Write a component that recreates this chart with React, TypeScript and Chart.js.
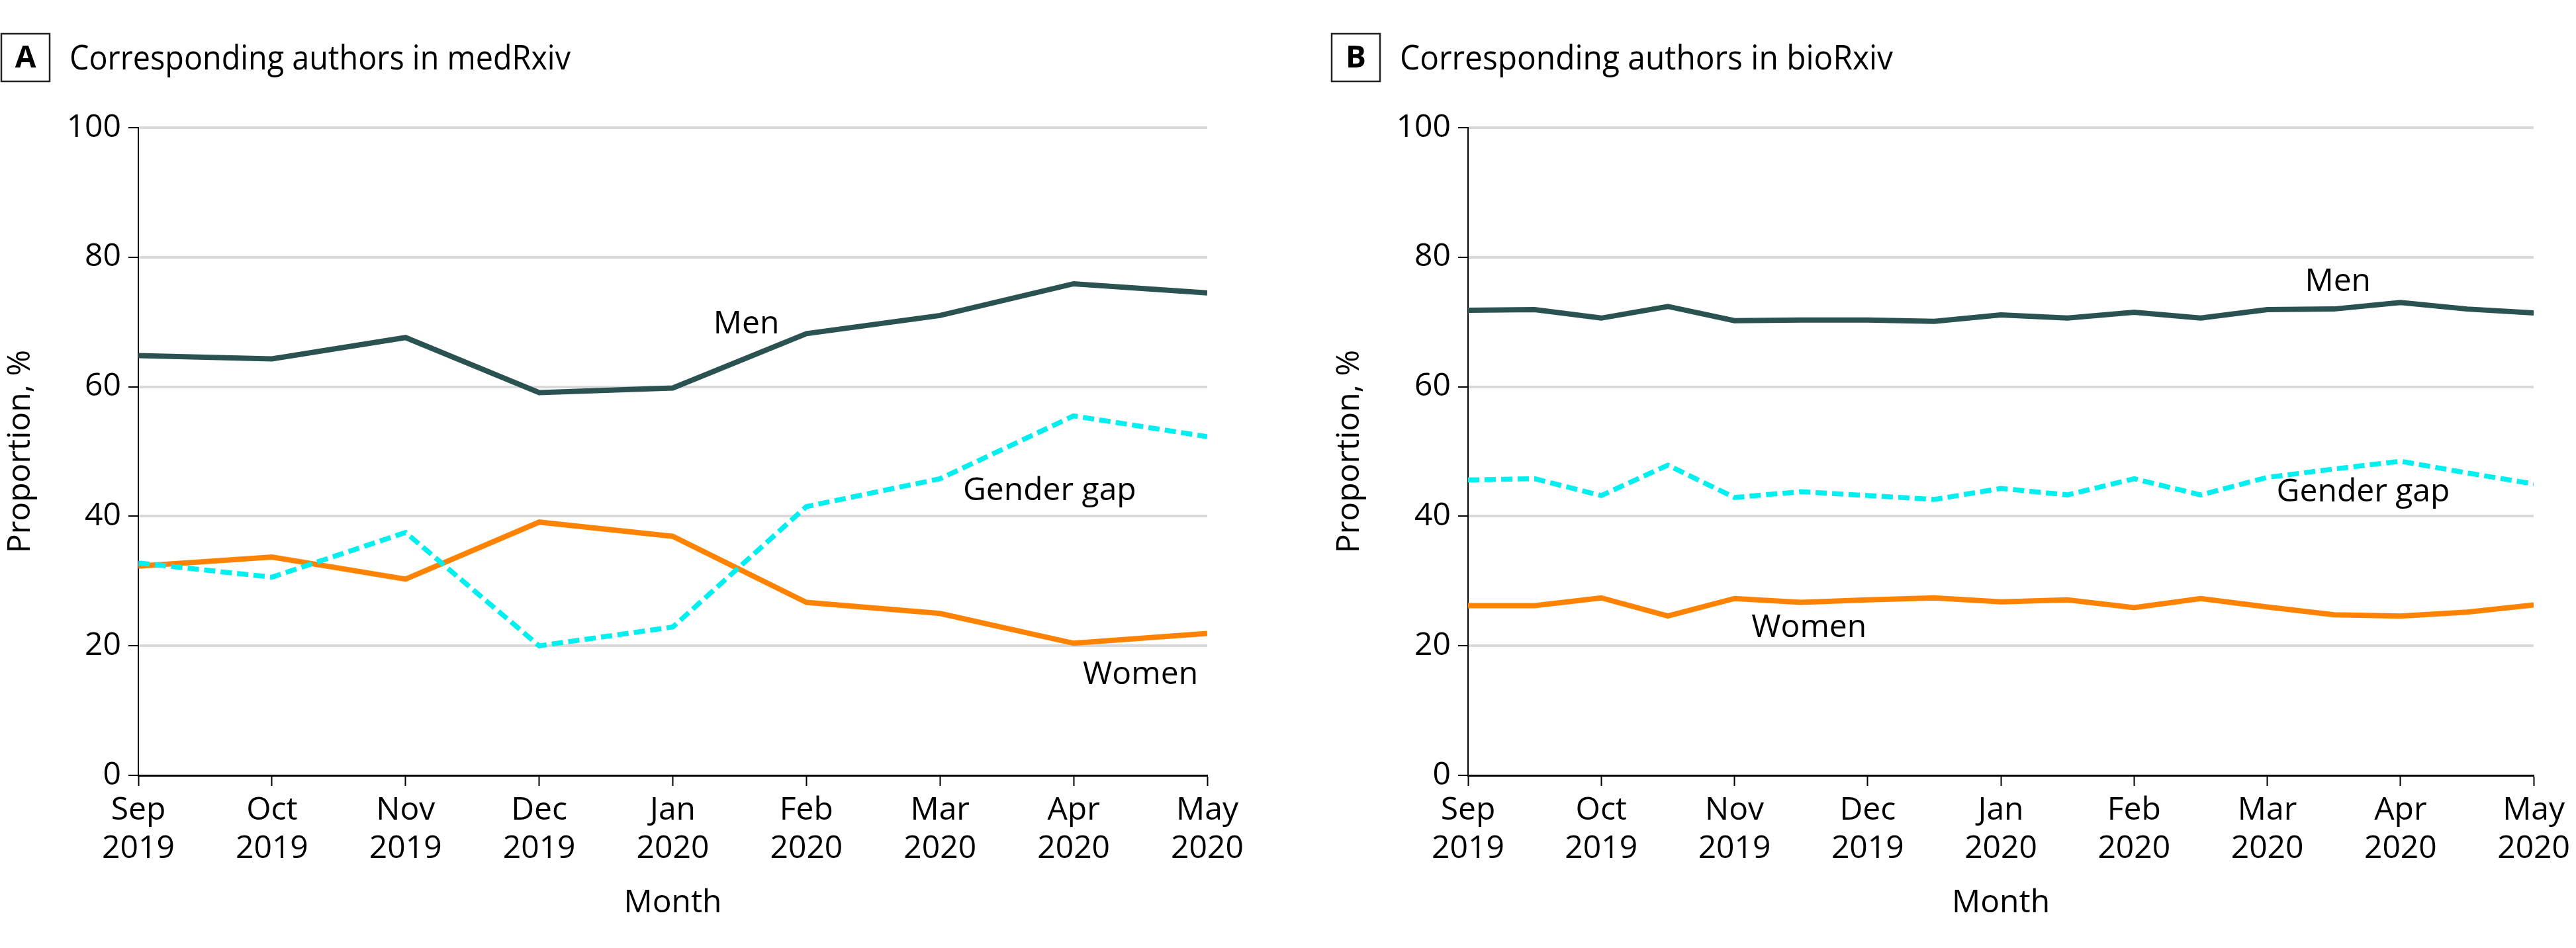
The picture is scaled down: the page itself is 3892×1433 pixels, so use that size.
import React, { useEffect, useRef } from "react";
import { Chart, registerables } from "chart.js";

Chart.register(...registerables);

const FONT = "'Open Sans', 'Noto Sans', sans-serif";

// Tick labels
const monthLabels = ["Sep", "Oct", "Nov", "Dec", "Jan", "Feb", "Mar", "Apr", "May"];
const yearLabels = ["2019", "2019", "2019", "2019", "2020", "2020", "2020", "2020", "2020"];

// Panel A: medRxiv (monthly)
const medMen = [64.8, 64.3, 67.6, 59.1, 59.8, 68.2, 71.0, 75.9, 74.5];
const medWomen = [32.3, 33.7, 30.3, 39.1, 36.9, 26.7, 25.0, 20.4, 21.9];
const medGap = [32.8, 30.6, 37.5, 20.0, 22.9, 41.5, 45.8, 55.5, 52.3];

// Panel B: bioRxiv (half-monthly)
const bioMen = [71.8, 71.9, 70.6, 72.4, 70.2, 70.3, 70.3, 70.1, 71.1, 70.6, 71.5, 70.6, 71.9, 72.0, 73.0, 72.0, 71.4];
const bioWomen = [26.2, 26.2, 27.4, 24.6, 27.3, 26.7, 27.1, 27.4, 26.8, 27.1, 25.9, 27.3, 26.0, 24.8, 24.6, 25.2, 26.3];
const bioGap = [45.6, 45.8, 43.2, 47.9, 42.9, 43.8, 43.2, 42.6, 44.3, 43.3, 45.8, 43.3, 46.0, 47.3, 48.5, 46.7, 45.0];

const seriesNames = ["Men", "Gender gap", "Women"];
const COLORS = { men: "#2A5251", women: "#FF8300", gap: "#00F0F0" };

type PanelProps = {
  left: number;
  width: number;
  letter: string;
  title: string;
  boxX: number;
  titleX: number;
  titleW: number;
  men: number[];
  women: number[];
  gap: number[];
  xStep: number;
  areaLeft: number;
  areaRight: number;
  yTitlePad: number;
  labelX: number[];
  labelY: number[];
};

function Panel(p: PanelProps) {
  const ref = useRef<HTMLCanvasElement>(null);
  useEffect(() => {
    const canvas = ref.current!;
    const pts = (arr: number[]) => arr.map((y, i) => ({ x: i * p.xStep, y }));

    const headerPlugin = {
      id: "header",
      afterDraw(chart: any) {
        const ctx = chart.ctx as CanvasRenderingContext2D;
        ctx.save();
        ctx.strokeStyle = "#222";
        ctx.lineWidth = 2.5;
        ctx.strokeRect(p.boxX, 51, 73, 72);
        ctx.fillStyle = "#000";
        ctx.textAlign = "center";
        ctx.textBaseline = "middle";
        ctx.font = `bold 46px ${FONT}`;
        ctx.fillText(p.letter, p.boxX + 36.5, 89);
        ctx.textAlign = "left";
        ctx.font = `52px ${FONT}`;
        ctx.fillText(p.title, p.titleX, 90, p.titleW);
        ctx.textAlign = "center";
        ctx.font = `48px ${FONT}`;
        seriesNames.forEach((t, i) => {
          const px = chart.scales.x.getPixelForValue(p.labelX[i]);
          const py = chart.scales.y.getPixelForValue(p.labelY[i]);
          ctx.fillText(t, px, py + 3);
        });
        ctx.restore();
      },
    };

    const chart = new Chart(canvas, {
      type: "line",
      data: {
        datasets: [
          {
            label: "Gender gap",
            data: pts(p.gap),
            borderColor: COLORS.gap,
            borderWidth: 7.5,
            borderDash: [17, 8],
            pointRadius: 0,
            tension: 0,
          },
          {
            label: "Men",
            data: pts(p.men),
            borderColor: COLORS.men,
            borderWidth: 8,
            pointRadius: 0,
            tension: 0,
          },
          {
            label: "Women",
            data: pts(p.women),
            borderColor: COLORS.women,
            borderWidth: 8,
            pointRadius: 0,
            tension: 0,
          },
        ],
      },
      options: {
        animation: false,
        responsive: false,
        layout: { padding: { top: 193, left: 0, right: p.width - p.areaRight, bottom: 0 } },
        plugins: { legend: { display: false }, tooltip: { enabled: false }, title: { display: false } },
        scales: {
          x: {
            type: "linear",
            min: 0,
            max: 8,
            afterFit: (s: any) => {
              s.height = 1433 - 1172;
            },
            ticks: {
              stepSize: 1,
              autoSkip: false,
              maxRotation: 0,
              color: "#000",
              padding: 9,
              font: { family: FONT, size: 48 },
              callback: (v: any) => [monthLabels[v], yearLabels[v]],
            },
            grid: {
              drawOnChartArea: false,
              drawTicks: true,
              tickLength: 16,
              tickColor: "#000",
              tickWidth: 2,
            },
            border: { color: "#000", width: 3 },
            title: {
              display: true,
              text: "Month",
              color: "#000",
              font: { family: FONT, size: 48 },
              padding: { top: 0, bottom: 39 },
            },
          },
          y: {
            min: 0,
            max: 100,
            afterFit: (s: any) => {
              s.width = p.areaLeft;
            },
            ticks: {
              stepSize: 20,
              color: "#000",
              padding: 11,
              font: { family: FONT, size: 48 },
            },
            grid: {
              color: (c: any) => (c.tick && c.tick.value === 0 ? "rgba(0,0,0,0)" : "#D9D9D9"),
              lineWidth: 4,
              drawTicks: true,
              tickLength: 15,
              tickColor: "#000",
              tickWidth: 2,
            },
            border: { color: "#000", width: 2 },
            title: {
              display: true,
              text: "Proportion, %",
              color: "#000",
              font: { family: FONT, size: 48 },
              padding: { top: p.yTitlePad, bottom: 0 },
            },
          },
        },
      } as any,
      plugins: [headerPlugin],
    });
    return () => chart.destroy();
  }, []);
  return (
    <canvas
      ref={ref}
      width={p.width}
      height={1433}
      style={{ position: "absolute", left: p.left, top: 0, width: p.width, height: 1433 }}
    />
  );
}

export default function App() {
  return (
    <div style={{ position: "absolute", left: 0, top: 0, width: 3892, height: 1433, background: "#fff", overflow: "hidden" }}>
      <Panel
        left={0}
        width={1960}
        letter="A"
        title="Corresponding authors in medRxiv"
        boxX={2}
        titleX={105}
        titleW={757}
        men={medMen}
        women={medWomen}
        gap={medGap}
        xStep={1}
        areaLeft={209}
        areaRight={1824}
        yTitlePad={3}
        labelX={[4.55, 6.82, 7.5]}
        labelY={[69.9, 44.2, 15.75]}
      />
      <Panel
        left={1960}
        width={1932}
        letter="B"
        title="Corresponding authors in bioRxiv"
        boxX={52}
        titleX={155}
        titleW={745}
        men={bioMen}
        women={bioWomen}
        gap={bioGap}
        xStep={0.5}
        areaLeft={258}
        areaRight={1876}
        yTitlePad={51}
        labelX={[6.53, 6.72, 2.56]}
        labelY={[76.5, 44.0, 23.1]}
      />
    </div>
  );
}
